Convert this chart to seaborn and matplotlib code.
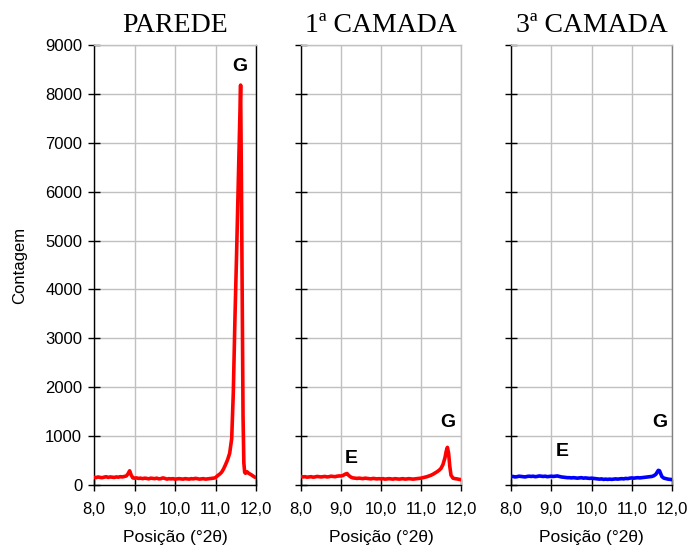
import numpy as np
import pandas as pd
import matplotlib
matplotlib.use("Agg")
import matplotlib.pyplot as plt
import seaborn as sns

# ---------------- data ----------------
titles = ["PAREDE", "1ª CAMADA", "3ª CAMADA"]
xtick_vals = [8.0, 9.0, 10.0, 11.0, 12.0]
xtick_labels = ["8,0", "9,0", "10,0", "11,0", "12,0"]
ytick_vals = [0, 1000, 2000, 3000, 4000, 5000, 6000, 7000, 8000, 9000]

x_parede = [8.00, 8.05, 8.10, 8.15, 8.20, 8.25, 8.30, 8.35, 8.40, 8.45, 8.50, 8.55, 8.60, 8.65, 8.70, 8.75, 8.80,
            8.84, 8.88, 8.92, 8.96,
            9.00, 9.05, 9.10, 9.15, 9.20, 9.25, 9.30, 9.35, 9.40, 9.45,
            9.50, 9.55, 9.60, 9.65, 9.70, 9.75, 9.80, 9.85, 9.90, 9.95,
            10.00, 10.05, 10.10, 10.15, 10.20, 10.25, 10.30, 10.35, 10.40, 10.45,
            10.50, 10.55, 10.60, 10.65, 10.70, 10.75, 10.80, 10.85, 10.90, 10.95,
            11.00, 11.05, 11.10, 11.15, 11.20, 11.25, 11.30, 11.35, 11.40,
            11.44, 11.48, 11.52, 11.56, 11.60, 11.62, 11.64, 11.66, 11.68, 11.70, 11.72, 11.74,
            11.78, 11.82, 11.86, 11.90, 11.95, 12.00]
y_parede = [160, 150, 165, 155, 150, 160, 170, 155, 165, 160, 155, 165, 160, 170, 165, 175, 185,
            230, 290, 200, 145,
            140, 145, 135, 140, 130, 140, 135, 125, 140, 135,
            130, 140, 125, 130, 145, 135, 120, 130, 125, 130,
            120, 125, 130, 125, 120, 130, 125, 120, 130, 125,
            135, 130, 120, 125, 130, 120, 125, 130, 135, 140,
            150, 190, 220, 260, 330, 420, 520, 650, 950,
            1900, 3400, 4700, 6100, 7500, 8180, 6200, 3800, 1400, 450, 260, 240,
            270, 240, 220, 200, 170, 150]

x_camada = [8.00, 8.05, 8.10, 8.15, 8.20, 8.25, 8.30, 8.35, 8.40, 8.45,
            8.50, 8.55, 8.60, 8.65, 8.70, 8.75, 8.80, 8.85, 8.90, 8.95,
            9.00, 9.05, 9.10, 9.15, 9.20, 9.25, 9.30, 9.35, 9.40, 9.45,
            9.50, 9.55, 9.60, 9.65, 9.70, 9.75, 9.80, 9.85, 9.90, 9.95,
            10.00, 10.05, 10.10, 10.15, 10.20, 10.25, 10.30, 10.35, 10.40, 10.45,
            10.50, 10.55, 10.60, 10.65, 10.70, 10.75, 10.80, 10.85, 10.90, 10.95,
            11.00, 11.05, 11.10, 11.15, 11.20, 11.25, 11.30, 11.35, 11.40,
            11.45, 11.50, 11.55, 11.60, 11.63, 11.66, 11.69, 11.72, 11.75, 11.80, 11.85, 11.90, 11.95, 12.00]
y_camada1 = [175, 165, 170, 160, 165, 170, 160, 165, 175, 170,
             165, 170, 175, 165, 170, 180, 175, 170, 180, 185,
             185, 195, 220, 235, 190, 160, 145, 140, 135, 140,
             135, 130, 140, 135, 130, 125, 135, 130, 125, 130,
             125, 130, 120, 125, 130, 125, 120, 130, 125, 120,
             125, 130, 120, 125, 130, 125, 120, 125, 130, 135,
             140, 150, 160, 170, 185, 200, 220, 245, 270,
             300, 340, 420, 560, 690, 770, 650, 380, 200, 140, 130, 125, 115, 110]
y_camada3 = [170, 175, 165, 170, 180, 175, 170, 165, 175, 180,
             175, 180, 170, 175, 185, 180, 175, 180, 170, 175,
             180, 175, 180, 185, 175, 165, 160, 155, 150, 150,
             145, 150, 145, 140, 145, 150, 140, 145, 140, 135,
             140, 135, 130, 125, 120, 125, 115, 120, 115, 120,
             115, 120, 125, 120, 125, 130, 125, 135, 130, 140,
             145, 140, 145, 150, 145, 150, 155, 160, 165,
             170, 175, 190, 220, 260, 300, 290, 230, 170, 140, 130, 120, 115, 110]

# peak labels: (text, x, y)
labels_parede = [("G", 11.60, 8560)]
labels_camada1 = [("E", 9.25, 550), ("G", 11.67, 1270)]
labels_camada3 = [("E", 9.27, 680), ("G", 11.70, 1270)]

# ---------------- plotting ----------------
sns.set_style("white")
plt.rcParams["font.family"] = ["Liberation Sans", "DejaVu Sans"]
plt.rcParams["text.color"] = "black"
plt.rcParams["axes.labelcolor"] = "black"
plt.rcParams["xtick.color"] = "black"
plt.rcParams["ytick.color"] = "black"

fig = plt.figure(figsize=(6.9, 5.48), dpi=100)

panels = [
    (titles[0], x_parede, y_parede, "#ff0000", labels_parede, [94, 256], "black"),
    (titles[1], x_camada, y_camada1, "#ff0000", labels_camada1, [301, 461], "#c0c0c0"),
    (titles[2], x_camada, y_camada3, "#0000ff", labels_camada3, [511, 672], "#808080"),
]

W, H = 690.0, 548.0
top_px, bot_px = 45.0, 485.0

for i, (title, xs, ys, color, labs, (l, r), rcol) in enumerate(panels):
    ax = fig.add_axes([l / W, 1 - bot_px / H, (r - l) / W, (bot_px - top_px) / H])
    df = pd.DataFrame({"pos": xs, "count": ys})
    sns.lineplot(data=df, x="pos", y="count", ax=ax, color=color, linewidth=2.6,
                 estimator=None, sort=False, zorder=3)
    ax.set_xlim(8.0, 12.0)
    ax.set_ylim(0, 9000)
    ax.set_xticks(xtick_vals)
    ax.set_xticklabels(xtick_labels, fontsize=12)
    ax.set_yticks(ytick_vals)
    if i == 0:
        ax.set_yticklabels([str(v) for v in ytick_vals], fontsize=12)
        ax.set_ylabel("Contagem", fontsize=12, labelpad=13)
    else:
        ax.set_yticklabels([])
        ax.set_ylabel("")
    ax.set_xlabel("Posição (°2θ)", fontsize=12.5, labelpad=9)
    ax.grid(True, color="#c0c0c0", linewidth=1.0, zorder=0)
    ax.set_axisbelow(True)
    ax.tick_params(axis="both", direction="inout", length=9, width=1, colors="black",
                   left=True, bottom=True)
    ax.tick_params(axis="x", pad=8)
    ax.tick_params(axis="y", pad=4)
    for s in ["left", "bottom"]:
        ax.spines[s].set_color("black")
        ax.spines[s].set_linewidth(1.0)
    ax.spines["top"].set_color("#c0c0c0")
    ax.spines["top"].set_linewidth(1.0)
    ax.spines["right"].set_color(rcol)
    ax.spines["right"].set_linewidth(1.0)
    ax.set_title(title, fontsize=20, family=["Liberation Serif", "DejaVu Serif"], pad=9)
    for txt, tx, ty in labs:
        ax.text(tx, ty, txt, ha="center", va="center", fontsize=14, fontweight="bold",
                color="black", zorder=4)

fig.savefig("out.png", dpi=100)
